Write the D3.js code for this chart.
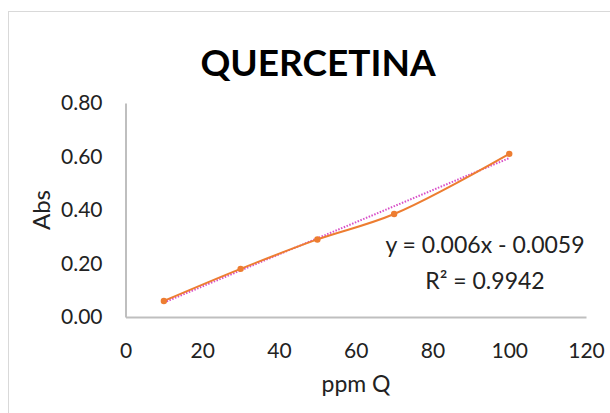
<!DOCTYPE html>
<html><head><meta charset="utf-8">
<script src="https://cdn.jsdelivr.net/npm/d3@7"></script>
<style>body{margin:0;background:#fff}svg{display:block}text{font-family:Lato,"Open Sans",sans-serif}</style>
</head><body>
<svg id="c" width="610" height="413"></svg>
<script>
const title = "QUERCETINA";
const xLabel = "ppm Q";
const yLabel = "Abs";
const xValues = [10, 30, 50, 70, 100];
const yValues = [0.06, 0.18, 0.29, 0.385, 0.61];
const xTicks = [0, 20, 40, 60, 80, 100, 120];
const yTicks = [0, 0.2, 0.4, 0.6, 0.8];
const trendSlope = 0.006, trendIntercept = -0.0059;
const eqText = "y = 0.006x - 0.0059";
const r2Text = "R² = 0.9942";

const svg = d3.select("#c");
svg.append("rect").attr("x",8.5).attr("y",11.5).attr("width",620).attr("height",420)
  .attr("fill","#fff").attr("stroke","#d9d9d9");

const x = d3.scaleLinear().domain([0,120]).range([125.5,586]);
const y = d3.scaleLinear().domain([0,0.8]).range([317,103]);

svg.append("text").attr("x",318).attr("y",76).attr("text-anchor","middle")
  .attr("font-size",37).attr("font-weight","bold").attr("fill","#000").text(title);

// axes
const gx = svg.append("g").attr("transform","translate(0,317)")
  .call(d3.axisBottom(x).tickValues(xTicks).tickSize(0).tickPadding(26).tickFormat(d3.format("d")));
gx.select(".domain").attr("stroke","#bfbfbf").attr("stroke-width",2);
gx.selectAll("text").attr("font-size",21).attr("fill","#222").attr("font-family","Lato");

const gy = svg.append("g").attr("transform","translate(125.5,0)")
  .call(d3.axisLeft(y).tickValues(yTicks).tickSize(0).tickPadding(23).tickFormat(d3.format(".2f")));
gy.select(".domain").attr("stroke","#bfbfbf").attr("stroke-width",2);
gy.selectAll("text").attr("font-size",21).attr("fill","#222").attr("font-family","Lato");

svg.append("text").attr("x",356).attr("y",392).attr("text-anchor","middle")
  .attr("font-size",23).attr("fill","#222").text(xLabel);
svg.append("text").attr("transform","translate(50,210) rotate(-90)").attr("text-anchor","middle")
  .attr("font-size",24).attr("fill","#222").text(yLabel);

const pts = xValues.map((v,i)=>[v,yValues[i]]);
// trendline
const tx = [d3.min(xValues), d3.max(xValues)];
svg.append("line").attr("x1",x(tx[0])).attr("y1",y(trendSlope*tx[0]+trendIntercept))
  .attr("x2",x(tx[1])).attr("y2",y(trendSlope*tx[1]+trendIntercept))
  .attr("stroke","#d84fc8").attr("stroke-width",2).attr("stroke-dasharray","1.5,1.5");

const line = d3.line().x(d=>x(d[0])).y(d=>y(d[1])).curve(d3.curveCatmullRom.alpha(0.5));
svg.append("path").datum(pts).attr("d",line).attr("fill","none").attr("stroke","#ED7D31").attr("stroke-width",2);
svg.selectAll("circle.pt").data(pts).enter().append("circle").attr("class","pt")
  .attr("cx",d=>x(d[0])).attr("cy",d=>y(d[1])).attr("r",3.2).attr("fill","#ED7D31");

svg.append("text").attr("x",485).attr("y",253).attr("text-anchor","middle")
  .attr("font-size",23).attr("fill","#222").text(eqText);
svg.append("text").attr("x",485).attr("y",289).attr("text-anchor","middle")
  .attr("font-size",23).attr("fill","#222").text(r2Text);
</script>
</body></html>
